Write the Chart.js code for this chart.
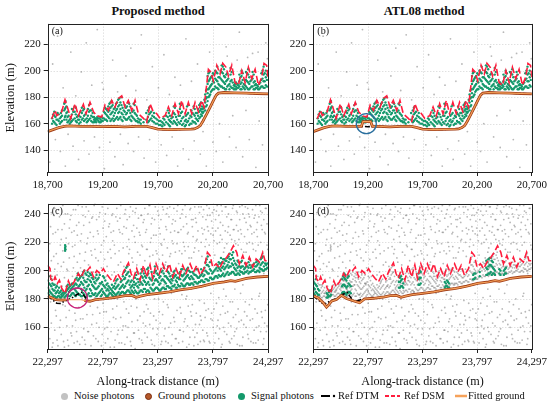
<!DOCTYPE html>
<html>
<head>
<meta charset="utf-8">
<script src="https://cdn.jsdelivr.net/npm/chart.js@4.4.1/dist/chart.umd.min.js"></script>
<style>
  html, body { margin: 0; padding: 0; background: #fff; }
  body { width: 550px; height: 406px; position: relative; overflow: hidden; font-family: "Liberation Serif", "Times New Roman", serif; color: #111; }
  canvas { position: absolute; }
  .title { position: absolute; top: 4px; line-height: 14px; font-weight: bold; font-size: 12.5px; transform: translateX(-50%); white-space: nowrap; }
  .leg { position: absolute; top: 389px; line-height: 14px; font-size: 10.5px; white-space: nowrap; }
  .dot { position: absolute; top: 392.5px; width: 7px; height: 7px; border-radius: 50%; box-sizing: border-box; }
  .sym { position: absolute; top: 392px; }
</style>
</head>
<body>
<div class="title" style="left:158px">Proposed method</div>
<div class="title" style="left:424px">ATL08 method</div>
<canvas id="pa" width="290" height="180" style="left:0;top:14px"></canvas>
<canvas id="pb" width="275" height="180" style="left:275px;top:14px"></canvas>
<canvas id="pc" width="290" height="195" style="left:0;top:194px"></canvas>
<canvas id="pd" width="275" height="195" style="left:275px;top:194px"></canvas>

<span class="dot" style="left:60.5px;background:#c2c2c2"></span><span class="leg" style="left:74px">Noise photons</span>
<span class="dot" style="left:144.5px;background:#b5592a;border:1.3px solid #7a2a0c"></span><span class="leg" style="left:158px">Ground photons</span>
<span class="dot" style="left:237.5px;background:#14996b"></span><span class="leg" style="left:251px">Signal photons</span>
<svg class="sym" style="left:321px" width="16" height="8"><line x1="0" y1="4" x2="9" y2="4" stroke="#000" stroke-width="2"/><circle cx="13" cy="4" r="1.2" fill="#000"/></svg><span class="leg" style="left:338px">Ref DTM</span>
<svg class="sym" style="left:385px" width="16" height="8"><line x1="0" y1="4" x2="15" y2="4" stroke="#ff1d3d" stroke-width="2" stroke-dasharray="4,2"/></svg><span class="leg" style="left:404px">Ref DSM</span>
<svg class="sym" style="left:455px" width="13" height="8"><line x1="0" y1="4" x2="12" y2="4" stroke="#f6a25a" stroke-width="2.5"/></svg><span class="leg" style="left:468px">Fitted ground</span>

<script>
// axes
const xTicksAB = [18700, 19200, 19700, 20200, 20700];
const xTicksCD = [22297, 22797, 23297, 23797, 24297];
const yTicksAB = [140, 160, 180, 200, 220];
const yTicksCD = [160, 180, 200, 220, 240];
const xRangeAB = [18700, 20700];
const xRangeCD = [22297, 24297];
const yRangeAB = [123.5, 235.5];
const yRangeCD = [144.7, 247.3];

// reference surfaces, upper track
const dsmAB = [[18736,163.7],[18767,170],[18782,166],[18827,169],[18857,178],[18888,170],[18909,164],[18948,175],[18978,166],[19024,174.5],[19048,167.5],[19084,176],[19115,169],[19145,166],[19190,165],[19220,174],[19251,170],[19281,177.5],[19311,172.5],[19342,179],[19372,181],[19402,172.5],[19432,177.5],[19463,170],[19493,177.5],[19523,167.5],[19569,164],[19599,161],[19629,175],[19653,170],[19690,167.5],[19720,164],[19765,166],[19796,172.5],[19826,166],[19856,175],[19887,167.5],[19917,177.5],[19947,167.5],[19977,176],[20008,167.5],[20038,176],[20068,169],[20098,177.5],[20120,172.5],[20144,190],[20159,201],[20180,199],[20204,192.5],[20235,204],[20265,197.5],[20289,205.5],[20319,202.5],[20340,196],[20371,204],[20401,191],[20431,189],[20462,200],[20492,191],[20522,202.5],[20552,194],[20583,201],[20613,189],[20643,195],[20664,205.5],[20688,204],[20700,195]];
const dtmAB = [[18700,154],[18750,155.5],[18800,157],[18850,158],[18900,158.3],[19000,158],[19100,158],[19200,157.7],[19300,158],[19400,157.5],[19500,158],[19600,158],[19650,157],[19700,155.8],[19800,155.5],[19900,155.7],[20000,155.8],[20030,156],[20060,157],[20085,158.5],[20110,162],[20145,167.5],[20175,172.5],[20205,177.5],[20230,181.5],[20250,183],[20300,183.5],[20400,183.2],[20500,183],[20600,182.7],[20700,182.5]];
const groundA = dtmAB;
const fittedA = dtmAB;
const groundB = [[18700,154],[18750,155.5],[18800,157],[18850,158],[18900,158.3],[19000,158],[19100,158],[19140,158],[19155,161.5],[19225,161.5],[19240,158],[19300,158],[19400,157.5],[19500,158],[19600,158],[19650,157],[19700,155.8],[19800,155.5],[19900,155.7],[20000,155.8],[20030,156],[20060,157],[20085,158.5],[20110,162],[20145,167.5],[20175,172.5],[20205,177.5],[20230,181.5],[20250,183],[20300,183.5],[20400,183.2],[20500,183],[20600,182.7],[20700,182.5]];
const fittedB = groundB;

// photons, upper track: [x, elevations...]
const signalAB = [[18740,160,164],[18760,161,166,169],[18780,159,163],[18800,162,167],[18820,161,165,168],[18850,163,170,175],[18862,166,172,177],[18880,161,165,169],[18900,160,163],[18920,162,167,171],[18945,164,169,173],[18965,161,165],[18985,160,163,166],[19010,163,168,172],[19030,162,166,171],[19055,161,164],[19075,163,169,174],[19095,162,166,170],[19120,161,163,165],[19140,161,163,164],[19160,162,164],[19180,161,163,165],[19200,162,164],[19220,163,168,172],[19240,162,166,170],[19260,164,170,175],[19280,163,168,173,177],[19300,162,166,171],[19320,164,170,175],[19340,163,168,173,178],[19360,165,171,176],[19380,162,167,172],[19400,164,169,174],[19420,163,168,173],[19440,165,170,175],[19460,162,166],[19480,164,170,175],[19500,162,167],[19520,161,164],[19545,160,163],[19570,161],[19610,161,165,170],[19630,163,168,173],[19650,162,166],[19680,160,164],[19710,159,162],[19740,158,161],[19760,159,163],[19790,160,165,170],[19810,158,162,166],[19835,160,165],[19855,161,167,172],[19875,159,163],[19900,160,166,171,175],[19920,159,164,169],[19945,158,162],[19965,161,167,173],[19985,159,164],[20005,160,165,170],[20025,161,167,173],[20045,160,164,168],[20065,162,166,171],[20085,165,170,175],[20100,166,169,173],[20115,169,172],[20130,170,176,182],[20145,174,180,186],[20160,180,186,192,198],[20175,182,188,194],[20190,185,190,196],[20210,186,191,197],[20230,187,193,199],[20250,186,190,195],[20270,188,194,200],[20290,187,192,198,203],[20310,186,190,195],[20330,188,193,198],[20350,186,190],[20370,187,193,199],[20390,186,189],[20410,186,188,191],[20430,187,189],[20450,186,190,195],[20470,188,193,198],[20490,186,189],[20510,187,192,198],[20530,186,190,195],[20550,188,193],[20570,186,191,197],[20590,187,190],[20610,186,188],[20630,187,191],[20650,188,194,200],[20670,187,192,198],[20690,188,193,197]];
const signalAB2 = [[18750,162,167],[18770,160,165],[18790,163,168],[18810,160,164],[18830,162,166,170],[18856,165,171,176],[18870,163,168,173],[18890,162,166],[18910,161,164],[18932,163,169],[18955,162,167,172],[18975,163,166],[18998,161,165,169],[19020,164,170],[19042,163,167],[19065,162,166,171],[19085,164,170,175],[19108,161,165,168],[19130,162,164],[19150,163,165],[19170,161,164],[19190,162,165],[19210,164,169],[19230,163,167,171],[19250,165,169,173],[19270,162,167,172,176],[19290,164,169,174],[19310,163,168,172],[19330,165,171,176],[19350,164,169,174,179],[19370,163,168,174,180],[19390,165,170],[19410,163,167,172],[19430,164,170,176],[19450,163,168,173],[19470,165,169],[19490,163,168,174],[19510,162,166],[19532,161,163],[19595,163,168],[19620,162,167,172],[19640,164,169],[19665,161,165,168],[19695,160,163],[19725,159,162],[19750,160,164],[19775,161,166],[19800,159,163,168],[19822,161,164],[19845,162,168,173],[19865,160,165],[19888,161,166],[19910,162,168,174],[19932,160,165],[19955,159,163,166],[19975,162,168,174],[19995,160,166],[20015,162,168],[20035,161,166,171],[20055,163,168],[20075,164,169,174],[20092,167,171,176],[20108,168,171],[20122,172,178],[20138,173,179,185],[20152,177,183,190,196],[20168,181,187,193,199],[20182,184,189,195],[20200,186,192,198],[20220,188,194,200],[20240,187,192,198,203],[20260,189,195],[20280,188,193,199,204],[20300,187,191,196,201],[20320,186,192,197],[20340,189,194],[20360,188,192,197,202],[20380,187,191],[20400,186,188,190],[20420,187,190],[20440,188,192,197],[20460,186,191,196,200],[20480,187,190],[20500,188,193,199],[20520,186,191,197,201],[20540,187,192],[20560,188,194,199],[20580,186,189,192],[20600,187,189],[20620,186,190],[20640,188,193,198],[20660,187,192,197,203],[20680,189,195,200]];
const noiseAB = [[18720,131],[18745,205],[18770,148],[18790,226],[18815,139],[18840,187],[18860,128],[18885,152],[18910,214],[18930,143],[18955,181],[18980,133],[19005,199],[19030,147],[19050,221],[19075,137],[19100,189],[19125,150],[19150,231],[19170,142],[19195,191],[19205,186],[19215,126],[19240,171],[19265,146],[19290,208],[19310,135],[19335,184],[19360,152],[19385,129],[19410,196],[19430,145],[19455,217],[19480,139],[19500,185],[19525,150],[19550,227],[19575,134],[19600,178],[19625,148],[19650,203],[19680,131],[19705,187],[19730,144],[19755,212],[19780,136],[19805,182],[19830,150],[19855,195],[19880,128],[19905,189],[19930,141],[19955,224],[19980,133],[20005,192],[20030,147],[20060,205],[20085,137],[20110,154],[20140,128],[20170,214],[20200,146],[20230,139],[20260,160],[20290,131],[20320,218],[20350,150],[20380,166],[20410,142],[20440,229],[20470,135],[20500,170],[20530,148],[20560,213],[20590,127],[20620,162],[20650,144],[20680,221],[20695,209],[20330,211],[20420,208],[20515,210],[20610,214]];

// reference surfaces, lower track
const dsmCD = [[22297,203.7],[22318,201.4],[22324,194.5],[22348,192],[22364,195.6],[22385,191],[22403,193.3],[22424,187.6],[22454,184],[22485,192.7],[22506,188.7],[22536,192],[22575,198],[22597,195],[22636,201.4],[22657,200],[22681,202.5],[22712,195.6],[22742,200],[22772,198],[22803,201.4],[22827,198],[22863,194.5],[22893,192],[22930,198],[22960,194],[22990,200],[23030,205.5],[23054,198],[23075,194.5],[23105,201.4],[23135,193.3],[23166,203.7],[23196,195.6],[23226,204],[23250,194.5],[23281,204.8],[23311,198],[23341,204.8],[23371,199],[23402,204.8],[23432,195.6],[23462,201.4],[23493,195.6],[23523,203.7],[23553,198],[23590,204.8],[23620,199],[23650,203.7],[23680,196.8],[23717,201.4],[23747,212.9],[23771,210.6],[23795,202.5],[23826,204.8],[23856,201.4],[23886,206],[23922,209.4],[23953,212.9],[23983,217.5],[24013,212.9],[24037,204.8],[24068,210.6],[24098,203.7],[24128,209.4],[24159,202.5],[24189,208.3],[24219,206],[24249,212.9],[24270,207],[24297,207]];
const dtmCD = [[22297,182],[22340,179.5],[22380,177],[22410,176.8],[22440,178],[22480,179.5],[22515,180.6],[22560,183],[22606,184.7],[22630,182],[22660,179],[22681,178.4],[22730,179.5],[22800,180],[22900,181],[23000,182.3],[23060,182.5],[23100,181.2],[23140,182],[23200,183],[23300,184],[23400,185],[23500,186.5],[23600,187.5],[23700,189],[23800,191],[23900,192],[23960,193],[24000,192.5],[24050,193.5],[24100,194.5],[24200,195.5],[24297,196]];
const fittedC = [[22297,182],[22330,181],[22370,179.5],[22420,179.2],[22480,179.5],[22540,179.6],[22600,179.4],[22650,178.6],[22681,178.4],[22730,179.5],[22800,180],[22900,181],[23000,182.3],[23060,182.5],[23100,181.2],[23140,182],[23200,183],[23300,184],[23400,185],[23500,186.5],[23600,187.5],[23700,189],[23800,191],[23900,192],[23960,193],[24000,192.5],[24050,193.5],[24100,194.5],[24200,195.5],[24297,196]];
const groundC = [[22297,182],[22330,181],[22370,179.5],[22420,179.2],[22465,179.4],[22470,null],[22630,179],[22650,178.6],[22681,178.4],[22730,179.5],[22800,180],[22900,181],[23000,182.3],[23060,182.5],[23100,181.2],[23140,182],[23200,183],[23300,184],[23400,185],[23500,186.5],[23600,187.5],[23700,189],[23800,191],[23900,192],[23960,193],[24000,192.5],[24050,193.5],[24100,194.5],[24200,195.5],[24297,196]];
const groundD = [[22297,182.3],[22342,180.7],[22388,177.3],[22418,174.3],[22440,176],[22463,178.4],[22509,179.6],[22554,182.5],[22600,180.3],[22675,178.4],[22721,177.3],[22766,180],[22850,180.5],[22950,181.5],[23000,182.3],[23060,182.5],[23100,181.2],[23140,182],[23200,183],[23300,184],[23400,185],[23500,186.5],[23600,187.5],[23700,189],[23800,191],[23900,192],[23960,193],[24000,192.5],[24050,193.5],[24100,194.5],[24200,195.5],[24297,196]];
const fittedD = groundD;

// photons, lower track: [x, elevations...]
const signalC = [[22300,184,188,193],[22320,185,190,196],[22340,183,187,191],[22360,182,186,190],[22380,181,185,189],[22400,182,184,188],[22420,181,183,186],[22440,183,185],[22455,214,216,218],[22460,182,185],[22480,183,187,190],[22500,182,186,189],[22520,184,188,191],[22540,183,187,190],[22560,185,190,195],[22580,183,189,194,197],[22600,182,187,192,196],[22620,184,190,195,199],[22640,181,186,192,198],[22660,183,189,194,199],[22680,182,187,193,198],[22700,184,190,195],[22720,183,188,192],[22740,182,187,193,197],[22760,184,189,195],[22780,182,186,191],[22800,185,190,196],[22820,183,188,193],[22840,182,187,191],[22860,184,188],[22880,183,186,190],[22900,184,189],[22920,183,188,193],[22940,185,190],[22960,184,188,192],[22980,185,190,196],[23000,184,189,195,200],[23020,186,192,198,203],[23040,185,190,196],[23060,186,189,193],[23080,184,188,192],[23100,185,191,197],[23120,184,188,192],[23140,186,192,198],[23160,185,190,195,200],[23180,187,192,196],[23200,186,191,197,201],[23220,185,190,195],[23240,187,193,199],[23260,186,191,196],[23280,188,194,200],[23300,187,192,197],[23320,186,191,196],[23340,188,194,200],[23360,187,192,196],[23380,189,195,200],[23400,188,193,198],[23420,187,191,194],[23440,189,195,199],[23460,188,193,197],[23480,190,195],[23500,189,194,199],[23520,190,196,201],[23540,189,194,198],[23560,191,196,201],[23580,190,195,200],[23600,191,196],[23620,190,194,198],[23640,192,197,201],[23660,191,195],[23680,192,196],[23700,193,198],[23720,192,197,202],[23740,194,199,204,208],[23760,193,198,203],[23780,195,200],[23800,194,199],[23820,196,201],[23840,195,200,204],[23860,196,201,205],[23880,197,202,206],[23900,196,201,205,208],[23920,198,203,207],[23940,197,202,206,210],[23960,198,203,208],[23980,199,204,209,213],[24000,197,201,205],[24020,198,202,207],[24040,197,200,203],[24060,199,203,207],[24080,198,201],[24100,199,203],[24120,198,202,206],[24140,199,202],[24160,200,204],[24180,199,203],[24200,200,204,207],[24220,199,202],[24240,201,205,209],[24260,200,203],[24280,201,204]];
const signalC2 = [[22310,183,186,191],[22330,184,189,194],[22350,182,186,190],[22370,181,184,188],[22390,182,186],[22410,181,185],[22430,182,184],[22450,181,184],[22458,215,217],[22470,183,186,189],[22490,182,185,188],[22510,183,187,190],[22530,184,189],[22550,182,186,191,194],[22570,184,188,193,198],[22590,183,190,195],[22610,182,186,191,197],[22630,183,188,193,200],[22650,182,187,192,197],[22670,184,190,196],[22690,182,186,192,197],[22710,183,189,194],[22730,184,187,191,195],[22750,183,188,194],[22770,185,191,197],[22790,183,187,192],[22810,184,189,195],[22830,182,186,190],[22850,183,186,189],[22870,184,187],[22890,182,185,188],[22910,183,187,191],[22930,184,189,194],[22950,183,187],[22970,185,189,193],[22990,184,188,194,199],[23010,185,191,197,202],[23030,186,193,199],[23050,184,188,192],[23070,185,190],[23090,186,190,195],[23110,184,189,194,199],[23130,185,190,194],[23150,186,191,196,201],[23170,187,193,198],[23190,185,190,195],[23210,186,192,198,202],[23230,188,194],[23250,186,190,195],[23270,187,193,199,203],[23290,188,193,198],[23310,186,190,195],[23330,187,193,199],[23350,188,193,198,202],[23370,187,191,196],[23390,189,194,199,203],[23410,188,192,196],[23430,189,193,197],[23450,190,196,200],[23470,188,192,195],[23490,189,194,198],[23510,191,197,201],[23530,189,193,197],[23550,190,195,200],[23570,191,197,202],[23590,190,194,199],[23610,191,195,199],[23630,192,197],[23650,191,196,201],[23670,192,195],[23690,193,197,201],[23710,192,196,200],[23730,194,200,206],[23750,193,198,204,210],[23770,195,201,206],[23790,194,198],[23810,195,200],[23830,196,202],[23850,197,202,206],[23870,196,200,205,209],[23890,198,203,208],[23910,197,202,207],[23930,199,204,209],[23950,198,203,208,212],[23970,199,205,211],[23990,198,202,207],[24010,197,200,204],[24030,198,203,206],[24050,199,202,206],[24070,198,203],[24090,199,202,205],[24110,200,203],[24130,199,204,208],[24150,200,203],[24170,201,205],[24190,199,203,206],[24210,200,205],[24230,201,204,208],[24250,200,206,210],[24270,201,205],[24290,202,205]];
const signalD = [[22300,184,188,192],[22320,185,190,194],[22340,183,187],[22420,181,184],[22440,182,185],[22460,183,186],[22560,184,189,194],[22580,185,190,195,198],[22600,183,188,193],[22620,185,191,196],[22640,184,189],[23080,188,192,196],[23100,189,193,196],[23120,188,191],[23260,190,194,198],[23280,191,195,199],[23500,188,192],[23520,189,193],[23540,188,191],[23760,194,197],[23780,195,198],[23820,196,199],[23880,197,202,207],[23900,198,203,208],[23920,199,204,209],[23940,198,202,206],[23960,197,200],[24000,198,201],[24040,197,200],[24060,198,202]];
const signalD2 = [[22310,183,187,191],[22330,184,189],[22350,183,186],[22430,181,183],[22450,182,186],[22570,185,190,196],[22590,184,189,194,197],[22610,184,189,195],[22630,185,190],[23090,188,192,195],[23110,189,194],[23270,190,195,200],[23510,189,191],[23530,188,192],[23770,194,198],[23890,197,201,206],[23910,198,204,209],[23930,197,203,207],[23950,198,201],[24010,197,200],[24050,198,201]];
const noiseCD = [[22301,236,171,198],[22316,152,219,187],[22330,207,163,241],[22345,183,226,149],[22361,244,158,201],[22375,168,212,190],[22390,229,147,205],[22404,192,238,160],[22420,155,203,222],[22434,214,176,246],[22449,146,195,233],[22464,223,167,185],[22478,200,151,240],[22493,172,230,209],[22508,239,186,156],[22522,161,217,196],[22537,210,149,228],[22551,188,243,165],[22566,150,206,225],[22580,234,174,193],[22595,166,221,202],[22610,245,153,180],[22624,197,232,159],[22639,148,213,238],[22653,219,169,189],[22668,204,157,242],[22683,175,227,195],[22697,237,162,211],[22712,154,199,224],[22726,215,181,247],[22741,163,236,198],[22756,226,150,207],[22770,191,241,170],[22785,147,218,202],[22799,230,177,186],[22814,208,159,235],[22829,171,224,196],[22843,244,152,213],[22858,185,233,164],[22872,157,209,227],[22887,221,173,240],[22902,199,146,218],[22916,166,238,192],[22931,235,180,155],[22945,149,214,229],[22960,206,167,246],[22975,226,189,158],[22989,178,231,203],[23004,243,161,194],[23018,153,217,236],[23033,212,170,222],[23048,187,245,150],[23062,164,228,209],[23077,232,193,156],[23091,145,220,241],[23106,204,174,230],[23121,237,158,186],[23135,168,211,225],[23150,218,151,239],[23164,193,234,163],[23179,156,207,244],[23194,229,176,215],[23208,173,240,197],[23223,246,162,210],[23237,151,223,233],[23252,211,184,159],[23267,180,236,147],[23281,225,165,214],[23296,159,242,203],[23310,208,171,230],[23325,236,148,219],[23340,169,211,245],[23354,222,190,154],[23369,150,231,206],[23383,244,176,216],[23398,196,160,238],[23413,163,227,212],[23427,233,155,221],[23442,185,244,167],[23456,152,213,235],[23471,219,172,242],[23486,205,149,227],[23500,174,237,158],[23515,240,183,212],[23529,157,220,231],[23544,214,166,246],[23559,146,233,182],[23573,227,175,217],[23588,191,243,153],[23602,168,209,236],[23617,236,158,224],[23632,153,216,245],[23646,221,170,234],[23661,200,148,228],[23675,179,241,162],[23690,245,165,220],[23705,158,226,238],[23719,229,177,150],[23734,172,236,222],[23748,239,154,231],[23763,150,218,244],[23778,226,184,166],[23792,165,230,241],[23807,243,173,221],[23821,156,228,236],[23836,219,161,246],[23850,181,239,152],[23865,234,169,225],[23880,148,222,242],[23894,213,187,160],[23909,170,245,228],[23923,238,155,219],[23938,163,231,240],[23953,225,178,149],[23967,152,236,222],[23982,246,167,229],[23996,187,221,157],[24011,159,242,232],[24026,228,173,218],[24040,147,236,245],[24055,215,165,226],[24069,190,240,153],[24084,171,224,237],[24098,234,160,213],[24113,155,229,244],[24128,220,176,238],[24142,204,150,231],[24157,166,243,219],[24171,237,158,227],[24186,149,214,246],[24200,224,170,234],[24215,182,238,161],[24230,157,220,242],[24244,241,167,229],[24259,198,152,236],[24273,172,226,244],[24288,233,161,218]];
const noiseCD2 = [[22308,159,214],[22323,231,178],[22338,146,196],[22352,210,239],[22368,172,227],[22382,197,151],[22397,243,184],[22412,165,218],[22427,229,189],[22441,150,206],[22456,240,175],[22471,161,201],[22486,219,147],[22500,185,236],[22515,154,227],[22530,243,202],[22544,170,218],[22559,232,157],[22573,193,246],[22588,148,212],[22603,226,187],[22617,166,239],[22632,207,151],[22646,245,178],[22661,157,223],[22676,190,234],[22690,147,214],[22705,238,169],[22719,183,246],[22734,152,209],[22749,228,174],[22763,160,238],[22778,213,190],[22792,245,155],[22807,171,221],[22821,149,240],[22836,203,160],[22851,231,181],[22865,146,215],[22880,239,197],[22894,167,228],[22909,212,151],[22924,244,175],[22938,158,204],[22953,227,237],[22968,182,149],[22982,216,161],[22997,148,240],[23011,230,173],[23026,160,199],[23040,238,215],[23055,175,147],[23070,206,242],[23084,156,224],[23099,244,180],[23113,165,213],[23128,227,152],[23143,190,239],[23157,149,217],[23172,236,171],[23186,161,227],[23201,215,153],[23216,246,185],[23230,170,220],[23245,148,237],[23259,225,168],[23274,198,245],[23289,155,212],[23303,239,180],[23318,163,226],[23332,218,150],[23347,243,178],[23362,159,204],[23376,229,240],[23391,174,149],[23405,210,245],[23420,147,184],[23435,236,219],[23449,164,228],[23464,201,152],[23478,246,227],[23493,158,214],[23507,229,170],[23522,150,243],[23537,217,164],[23551,238,180],[23566,161,226],[23580,209,148],[23595,244,171],[23610,176,231],[23624,147,213],[23639,237,162],[23653,156,222],[23668,214,245],[23683,168,150],[23697,230,210],[23712,151,243],[23726,217,167],[23741,246,156],[23756,173,228],[23770,149,239],[23785,235,170],[23799,160,225],[23814,211,149],[23829,242,177],[23843,165,230],[23858,220,159],[23872,146,246],[23887,232,175],[23902,157,216],[23916,245,182],[23931,171,227],[23945,150,212],[23960,236,161],[23975,178,244],[23989,154,229],[24004,219,169],[24018,241,148],[24033,164,222],[24048,229,184],[24062,147,246],[24077,213,162],[24091,245,178],[24106,168,219],[24120,152,240],[24135,232,165],[24150,180,226],[24164,149,215],[24179,239,173],[24193,160,229],[24208,218,151],[24222,246,184],[24237,171,232],[24252,148,212],[24266,227,163],[24281,157,244],[24295,215,176]];

// highlighted spots
const markB = [[19185, 160]];
const markC = [[22566, 180.7]];

const pts = a => a.map(([x, y]) => ({x, y}));
const cols = a => a.flatMap(([x, ...ys]) => ys.map(y => ({x, y})));
const serif = '"Liberation Serif", "Times New Roman", serif';

// dotted grid under the photons, full frame and panel tag on top
const frame = {
  id: 'frame',
  beforeDatasetsDraw(chart) {
    const {ctx, chartArea: a, scales: {x, y}} = chart;
    ctx.save();
    ctx.strokeStyle = '#c8c8c8';
    ctx.lineWidth = 0.8;
    ctx.setLineDash([1, 2]);
    ctx.beginPath();
    x.ticks.forEach(t => { const p = Math.round(x.getPixelForValue(t.value)) + 0.5; ctx.moveTo(p, a.top); ctx.lineTo(p, a.bottom); });
    y.ticks.forEach(t => { const p = Math.round(y.getPixelForValue(t.value)) + 0.5; ctx.moveTo(a.left, p); ctx.lineTo(a.right, p); });
    ctx.stroke();
    ctx.restore();
  },
  afterDraw(chart, args, opts) {
    const {ctx, chartArea: a} = chart;
    ctx.save();
    ctx.strokeStyle = '#222';
    ctx.lineWidth = 1;
    ctx.strokeRect(Math.round(a.left) + 0.5, Math.round(a.top) + 0.5, Math.round(a.right - a.left), Math.round(a.bottom - a.top));
    ctx.fillStyle = '#111';
    ctx.font = '10px ' + serif;
    ctx.textBaseline = 'middle';
    ctx.fillText(opts.tag, a.left + 4, a.top + 8);
    ctx.restore();
  }
};

function makePanel(id, p) {
  return new Chart(document.getElementById(id), {
    type: 'scatter',
    data: {
      datasets: [
        { data: p.noise, pointRadius: 0.9, backgroundColor: 'rgba(125,125,125,0.55)', borderWidth: 0, order: 7 },
        { data: p.signal, pointRadius: 1.2, backgroundColor: '#15996c', borderWidth: 0, order: 6 },
        { data: p.dtm, showLine: true, pointRadius: 0, borderColor: '#000', borderWidth: 1.6, borderDash: [5, 2, 1.5, 2], order: 5 },
        { data: p.ground, showLine: true, pointRadius: 0, borderColor: '#a3401a', borderWidth: 2.8, order: 4 },
        { data: p.dsm, showLine: true, pointRadius: 0, borderColor: '#ff1d3d', borderWidth: 1.6, borderDash: [7, 3], order: 3 },
        { data: p.fitted, showLine: true, pointRadius: 0, borderColor: '#f6a25a', borderWidth: 1.1, order: 2 },
        { data: p.mark, pointRadius: 10, backgroundColor: 'rgba(0,0,0,0)', borderColor: p.markColor, borderWidth: 1.3, order: 1 }
      ]
    },
    options: {
      responsive: false,
      animation: false,
      events: [],
      layout: { autoPadding: false, padding: p.pad },
      plugins: { legend: { display: false }, tooltip: { enabled: false }, frame: { tag: p.tag } },
      scales: {
        x: {
          type: 'linear', min: p.xr[0], max: p.xr[1],
          afterBuildTicks: s => { s.ticks = p.xt.map(value => ({value})); },
          afterFit: s => { s.height = p.xh; },
          ticks: { callback: v => v.toLocaleString('en-US'), color: '#111', font: { family: serif, size: 11 }, padding: 3, maxRotation: 0, autoSkip: false },
          grid: { drawOnChartArea: false, tickLength: 4, tickColor: '#222' },
          border: { display: false },
          title: { display: p.xTitle, text: 'Along-track distance (m)', color: '#111', font: { family: serif, size: 12.2 }, padding: 0 }
        },
        y: {
          type: 'linear', min: p.yr[0], max: p.yr[1],
          afterBuildTicks: s => { s.ticks = p.yt.map(value => ({value})); },
          afterFit: s => { s.width = p.yw; },
          ticks: { color: '#111', font: { family: serif, size: 11 }, padding: 3, autoSkip: false },
          grid: { drawOnChartArea: false, tickLength: 4, tickColor: '#222' },
          border: { display: false },
          title: { display: p.yTitle, text: 'Elevation (m)', color: '#111', font: { family: serif, size: 12.6 }, padding: { top: 3, bottom: 0 } }
        }
      }
    },
    plugins: [frame]
  });
}

const topRow = { xr: xRangeAB, yr: yRangeAB, xt: xTicksAB, yt: yTicksAB, xh: 22, dsm: pts(dsmAB), dtm: pts(dtmAB), xTitle: false };
const bottomRow = { xr: xRangeCD, yr: yRangeCD, xt: xTicksCD, yt: yTicksCD, xh: 40, dsm: pts(dsmCD), dtm: pts(dtmCD), xTitle: true };

function drawAll() {
  makePanel('pa', Object.assign({}, topRow, {
    tag: '(a)', pad: { top: 8.7, right: 22, left: 0, bottom: 0 }, yw: 47.7, yTitle: true,
    noise: pts(noiseAB), signal: cols(signalAB).concat(cols(signalAB2)), ground: pts(groundA), fitted: pts(fittedA), mark: [], markColor: '#000'
  }));
  makePanel('pb', Object.assign({}, topRow, {
    tag: '(b)', pad: { top: 8.7, right: 15.7, left: 0, bottom: 0 }, yw: 38.3, yTitle: false,
    noise: pts(noiseAB), signal: cols(signalAB).concat(cols(signalAB2)), ground: pts(groundB), fitted: pts(fittedB), mark: pts(markB), markColor: '#2a6f9e'
  }));
  makePanel('pc', Object.assign({}, bottomRow, {
    tag: '(c)', pad: { top: 5.3, right: 22, left: 0, bottom: 0 }, yw: 47.7, yTitle: true,
    noise: cols(noiseCD).concat(cols(noiseCD2)), signal: cols(signalC).concat(cols(signalC2)), ground: pts(groundC), fitted: pts(fittedC), mark: pts(markC), markColor: '#c8237a'
  }));
  makePanel('pd', Object.assign({}, bottomRow, {
    tag: '(d)', pad: { top: 5.3, right: 15.7, left: 0, bottom: 0 }, yw: 38.3, yTitle: false,
    noise: cols(noiseCD).concat(cols(noiseCD2), cols(signalC), cols(signalC2)), signal: cols(signalD).concat(cols(signalD2)), ground: pts(groundD), fitted: pts(fittedD), mark: [], markColor: '#000'
  }));
}

if (document.fonts && document.fonts.load) {
  document.fonts.load('11px "Liberation Serif"').then(drawAll, drawAll);
} else {
  drawAll();
}
</script>
</body>
</html>
